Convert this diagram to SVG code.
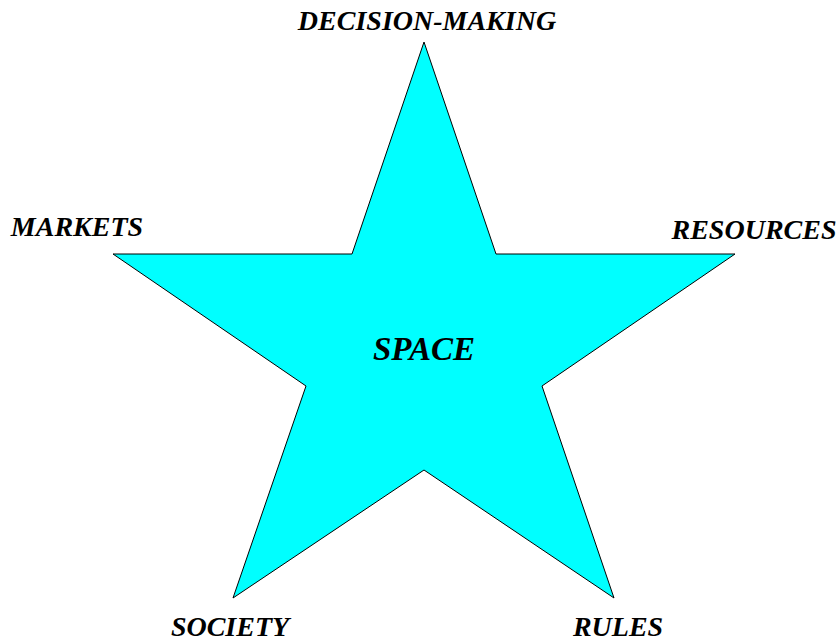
<svg xmlns="http://www.w3.org/2000/svg" width="837" height="640" viewBox="0 0 837 640">
<style>
.lbl{font-family:"Liberation Serif","DejaVu Serif",serif;font-style:italic;font-weight:bold;font-size:28px;fill:#000;text-anchor:middle}
.ctr{font-family:"Liberation Serif","DejaVu Serif",serif;font-style:italic;font-weight:bold;font-size:33px;fill:#000;text-anchor:middle}
</style>
<rect width="837" height="640" fill="#fff"/>
<g id="star">
<polygon points="424,42 496,254 735,254 542,386 614,598 424,470 233,598 306,386 113,254 352,254" fill="#00ffff" stroke="#000" stroke-width="1"/>
<text class="ctr" x="424" y="360">SPACE</text>
</g>
<g id="decision-making"><text class="lbl" x="427" y="30">DECISION-MAKING</text></g>
<g id="markets"><text class="lbl" x="77" y="236">MARKETS</text></g>
<g id="resources"><text class="lbl" x="754" y="239">RESOURCES</text></g>
<g id="society"><text class="lbl" x="230" y="636">SOCIETY</text></g>
<g id="rules"><text class="lbl" x="618" y="636">RULES</text></g>
<g id="connectors"></g>
</svg>
